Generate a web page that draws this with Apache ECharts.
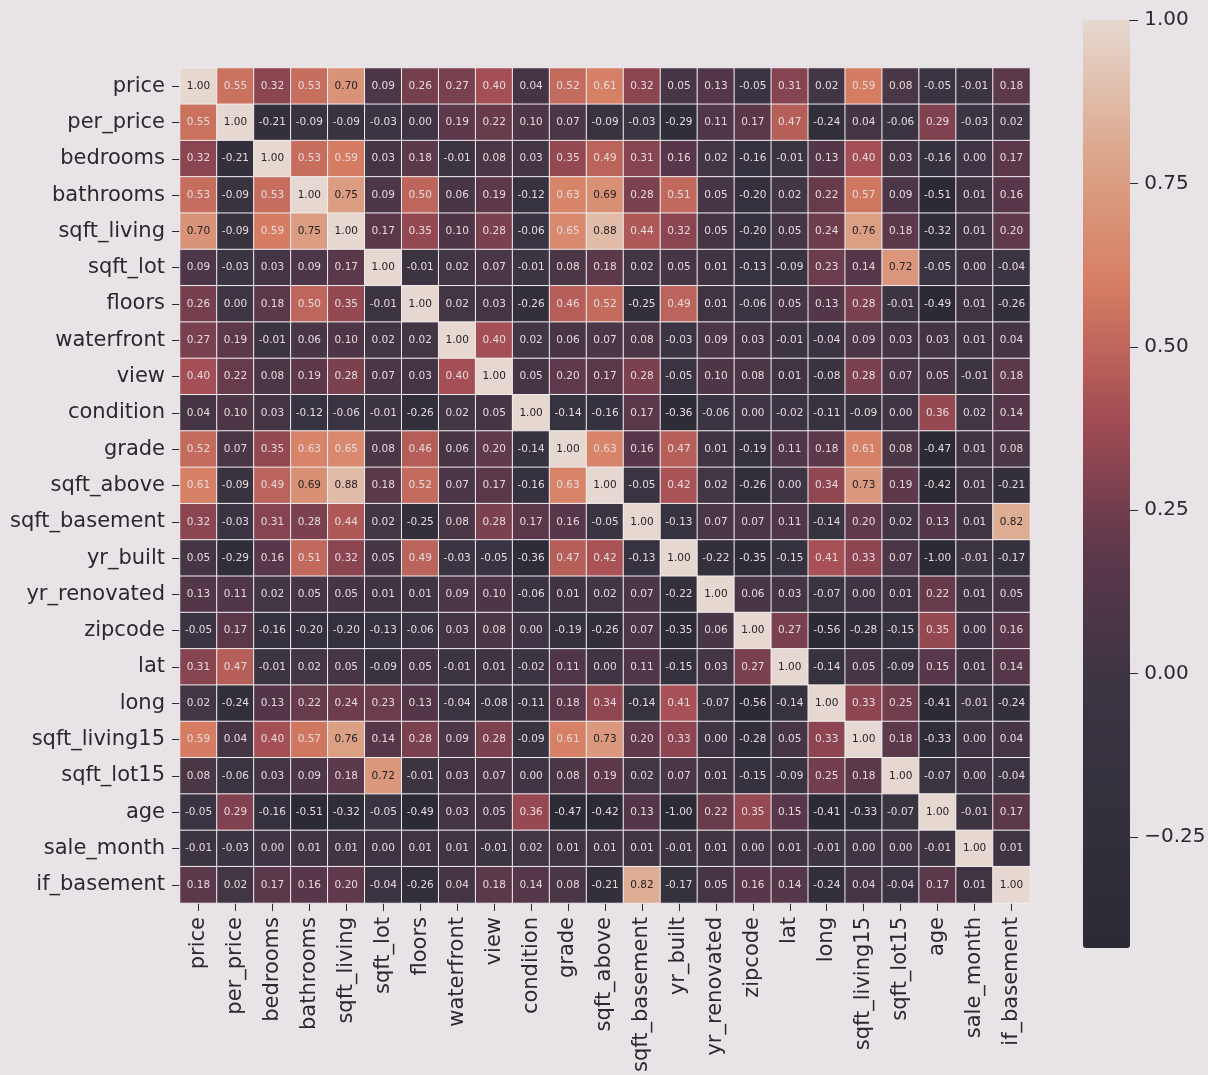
<!DOCTYPE html>
<html>
<head>
<meta charset="utf-8">
<script src="https://cdn.jsdelivr.net/npm/echarts@6/dist/echarts.min.js"></script>
<style>
html,body{margin:0;padding:0;background:#e8e3e6;}
#chart{width:1208px;height:1075px;}
</style>
</head>
<body>
<div id="chart"></div>
<script>
const names = ['price','per_price','bedrooms','bathrooms','sqft_living','sqft_lot','floors','waterfront','view','condition','grade','sqft_above','sqft_basement','yr_built','yr_renovated','zipcode','lat','long','sqft_living15','sqft_lot15','age','sale_month','if_basement'];

const r_price        = [1.00,0.55,0.32,0.53,0.70,0.09,0.26,0.27,0.40,0.04,0.52,0.61,0.32,0.05,0.13,-0.05,0.31,0.02,0.59,0.08,-0.05,-0.01,0.18];
const r_per_price    = [0.55,1.00,-0.21,-0.09,-0.09,-0.03,0.00,0.19,0.22,0.10,0.07,-0.09,-0.03,-0.29,0.11,0.17,0.47,-0.24,0.04,-0.06,0.29,-0.03,0.02];
const r_bedrooms     = [0.32,-0.21,1.00,0.53,0.59,0.03,0.18,-0.01,0.08,0.03,0.35,0.49,0.31,0.16,0.02,-0.16,-0.01,0.13,0.40,0.03,-0.16,-0.00,0.17];
const r_bathrooms    = [0.53,-0.09,0.53,1.00,0.75,0.09,0.50,0.06,0.19,-0.12,0.63,0.69,0.28,0.51,0.05,-0.20,0.02,0.22,0.57,0.09,-0.51,0.01,0.16];
const r_sqft_living  = [0.70,-0.09,0.59,0.75,1.00,0.17,0.35,0.10,0.28,-0.06,0.65,0.88,0.44,0.32,0.05,-0.20,0.05,0.24,0.76,0.18,-0.32,0.01,0.20];
const r_sqft_lot     = [0.09,-0.03,0.03,0.09,0.17,1.00,-0.01,0.02,0.07,-0.01,0.08,0.18,0.02,0.05,0.01,-0.13,-0.09,0.23,0.14,0.72,-0.05,-0.00,-0.04];
const r_floors       = [0.26,0.00,0.18,0.50,0.35,-0.01,1.00,0.02,0.03,-0.26,0.46,0.52,-0.25,0.49,0.01,-0.06,0.05,0.13,0.28,-0.01,-0.49,0.01,-0.26];
const r_waterfront   = [0.27,0.19,-0.01,0.06,0.10,0.02,0.02,1.00,0.40,0.02,0.06,0.07,0.08,-0.03,0.09,0.03,-0.01,-0.04,0.09,0.03,0.03,0.01,0.04];
const r_view         = [0.40,0.22,0.08,0.19,0.28,0.07,0.03,0.40,1.00,0.05,0.20,0.17,0.28,-0.05,0.10,0.08,0.01,-0.08,0.28,0.07,0.05,-0.01,0.18];
const r_condition    = [0.04,0.10,0.03,-0.12,-0.06,-0.01,-0.26,0.02,0.05,1.00,-0.14,-0.16,0.17,-0.36,-0.06,0.00,-0.02,-0.11,-0.09,-0.00,0.36,0.02,0.14];
const r_grade        = [0.52,0.07,0.35,0.63,0.65,0.08,0.46,0.06,0.20,-0.14,1.00,0.63,0.16,0.47,0.01,-0.19,0.11,0.18,0.61,0.08,-0.47,0.01,0.08];
const r_sqft_above   = [0.61,-0.09,0.49,0.69,0.88,0.18,0.52,0.07,0.17,-0.16,0.63,1.00,-0.05,0.42,0.02,-0.26,-0.00,0.34,0.73,0.19,-0.42,0.01,-0.21];
const r_sqft_basement= [0.32,-0.03,0.31,0.28,0.44,0.02,-0.25,0.08,0.28,0.17,0.16,-0.05,1.00,-0.13,0.07,0.07,0.11,-0.14,0.20,0.02,0.13,0.01,0.82];
const r_yr_built     = [0.05,-0.29,0.16,0.51,0.32,0.05,0.49,-0.03,-0.05,-0.36,0.47,0.42,-0.13,1.00,-0.22,-0.35,-0.15,0.41,0.33,0.07,-1.00,-0.01,-0.17];
const r_yr_renovated = [0.13,0.11,0.02,0.05,0.05,0.01,0.01,0.09,0.10,-0.06,0.01,0.02,0.07,-0.22,1.00,0.06,0.03,-0.07,-0.00,0.01,0.22,0.01,0.05];
const r_zipcode      = [-0.05,0.17,-0.16,-0.20,-0.20,-0.13,-0.06,0.03,0.08,0.00,-0.19,-0.26,0.07,-0.35,0.06,1.00,0.27,-0.56,-0.28,-0.15,0.35,-0.00,0.16];
const r_lat          = [0.31,0.47,-0.01,0.02,0.05,-0.09,0.05,-0.01,0.01,-0.02,0.11,-0.00,0.11,-0.15,0.03,0.27,1.00,-0.14,0.05,-0.09,0.15,0.01,0.14];
const r_long         = [0.02,-0.24,0.13,0.22,0.24,0.23,0.13,-0.04,-0.08,-0.11,0.18,0.34,-0.14,0.41,-0.07,-0.56,-0.14,1.00,0.33,0.25,-0.41,-0.01,-0.24];
const r_sqft_living15= [0.59,0.04,0.40,0.57,0.76,0.14,0.28,0.09,0.28,-0.09,0.61,0.73,0.20,0.33,-0.00,-0.28,0.05,0.33,1.00,0.18,-0.33,0.00,0.04];
const r_sqft_lot15   = [0.08,-0.06,0.03,0.09,0.18,0.72,-0.01,0.03,0.07,-0.00,0.08,0.19,0.02,0.07,0.01,-0.15,-0.09,0.25,0.18,1.00,-0.07,0.00,-0.04];
const r_age          = [-0.05,0.29,-0.16,-0.51,-0.32,-0.05,-0.49,0.03,0.05,0.36,-0.47,-0.42,0.13,-1.00,0.22,0.35,0.15,-0.41,-0.33,-0.07,1.00,-0.01,0.17];
const r_sale_month   = [-0.01,-0.03,-0.00,0.01,0.01,-0.00,0.01,0.01,-0.01,0.02,0.01,0.01,0.01,-0.01,0.01,-0.00,0.01,-0.01,0.00,0.00,-0.01,1.00,0.01];
const r_if_basement  = [0.18,0.02,0.17,0.16,0.20,-0.04,-0.26,0.04,0.18,0.14,0.08,-0.21,0.82,-0.17,0.05,0.16,0.14,-0.24,0.04,-0.04,0.17,0.01,1.00];

const colorbarTicks = [-0.25, 0.00, 0.25, 0.50, 0.75, 1.00];

const rows = [r_price,r_per_price,r_bedrooms,r_bathrooms,r_sqft_living,r_sqft_lot,r_floors,r_waterfront,r_view,r_condition,r_grade,r_sqft_above,r_sqft_basement,r_yr_built,r_yr_renovated,r_zipcode,r_lat,r_long,r_sqft_living15,r_sqft_lot15,r_age,r_sale_month,r_if_basement];

const VMIN = -0.42, VMAX = 1.0;
const data = [];
rows.forEach((row, j) => {
  row.forEach((v, i) => {
    const c = Math.max(VMIN, Math.min(VMAX, v));
    data.push({
      value: [i, j, v, c],
      label: { color: v >= 0.68 ? '#262226' : '#e6d9dc' }
    });
  });
});

const FONT = '"DejaVu Sans", Verdana, sans-serif';
const TXT = '#2c282e';

const chart = echarts.init(document.getElementById('chart'), null, {renderer: 'canvas'});
chart.setOption({
  backgroundColor: '#e8e3e6',
  animation: false,
  textStyle: { fontFamily: FONT },
  grid: [
    { left: 180, top: 68, width: 850, height: 837 },
    { left: 1129, top: 20, width: 1, height: 928 }
  ],
  xAxis: [
    {
      type: 'category', data: names, gridIndex: 0, position: 'bottom',
      axisLine: { show: false },
      axisTick: { show: true, alignWithLabel: true, length: 8, lineStyle: { color: TXT } },
      axisLabel: { rotate: 90, fontSize: 21, color: TXT, margin: 14, fontFamily: FONT, interval: 0 },
      splitLine: { show: false }, splitArea: { show: false }
    },
    { type: 'value', gridIndex: 1, show: false, min: 0, max: 1 }
  ],
  yAxis: [
    {
      type: 'category', data: names, gridIndex: 0, inverse: true,
      axisLine: { show: false },
      axisTick: { show: true, alignWithLabel: true, length: 8, lineStyle: { color: TXT } },
      axisLabel: { fontSize: 21, color: TXT, margin: 15, fontFamily: FONT, interval: 0 },
      splitLine: { show: false }, splitArea: { show: false }
    },
    {
      type: 'value', gridIndex: 1, min: VMIN, max: VMAX, position: 'right',
      axisLine: { show: false },
      splitLine: { show: false },
      axisTick: { show: true, length: 9, customValues: colorbarTicks, lineStyle: { color: TXT } },
      axisLabel: {
        fontSize: 20, color: TXT, margin: 15, fontFamily: FONT,
        customValues: colorbarTicks,
        formatter: v => (v < 0 ? '\u2212' : '') + Math.abs(v).toFixed(2)
      }
    }
  ],
  visualMap: {
    type: 'continuous', min: VMIN, max: VMAX, dimension: 3, seriesIndex: 0,
    calculable: false, hoverLink: false, orient: 'vertical',
    left: 1083, top: 20, itemWidth: 47, itemHeight: 928, padding: 0,
    inRange: { color: ['#2c2a35','#33303c','#3c3442','#5d384b','#a24c54','#d67d62','#dca78c','#e6d8d0'] }
  },
  series: [{
    type: 'heatmap', xAxisIndex: 0, yAxisIndex: 0,
    data: data,
    itemStyle: { borderColor: '#f1eef0', borderWidth: 1 },
    label: {
      show: true, fontSize: 10.5, fontFamily: FONT,
      formatter: p => p.value[2].toFixed(2)
    },
    emphasis: { disabled: true }
  }]
});
</script>
</body>
</html>
